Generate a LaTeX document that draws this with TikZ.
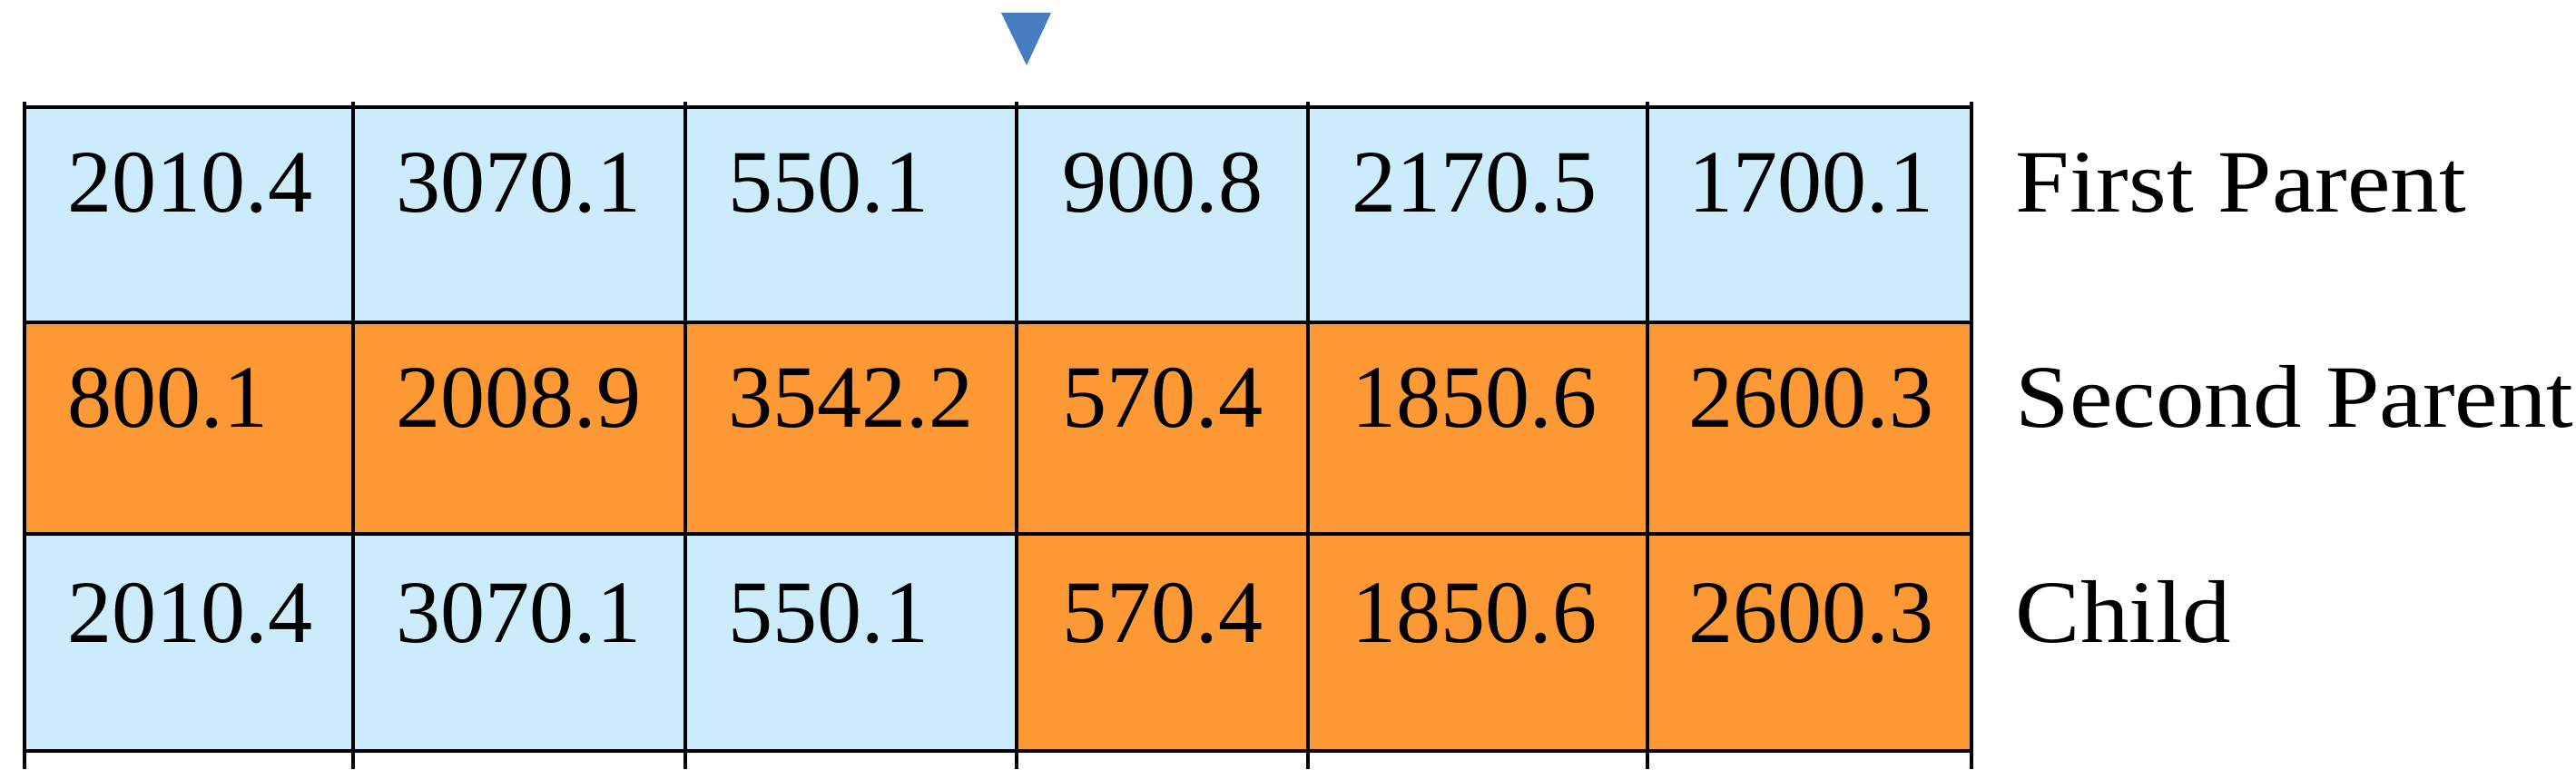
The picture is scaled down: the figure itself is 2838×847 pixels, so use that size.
\documentclass[tikz,border=0pt]{standalone}
\usepackage{fontspec}
\setmainfont{Liberation Serif}
\definecolor{cellblue}{RGB}{204,236,252}
\definecolor{cellorange}{RGB}{253,153,52}
\definecolor{markblue}{RGB}{70,125,190}
\tikzset{
  gridline/.style={line width=0.043cm, black},
  celltext/.style={anchor=base west, inner sep=0pt, font=\fontsize{27.9}{30}\selectfont},
  rowlabel/.style={anchor=base west, inner sep=0pt, font=\fontsize{27.9}{30}\selectfont},
}
\newcommand{\widelabel}[1]{\scalebox{1.09}[1]{#1}}
\begin{document}
\begin{tikzpicture}[x=0.01cm,y=-0.01cm]
\useasboundingbox (0,0) rectangle (2838,847);
% fills
\fill[cellblue] (27,118) rectangle (2172,355);
\fill[cellorange] (27,355) rectangle (2172,588);
\fill[cellblue] (27,588) rectangle (1120,827);
\fill[cellorange] (1120,588) rectangle (2172,827);
% grid
\foreach \y in {118,355,588,827} \draw[gridline] (27,\y) -- (2172,\y);
\foreach \x in {27,389,755,1120,1441,1815,2172} \draw[gridline] (\x,112) -- (\x,847);
% marker
\fill[markblue] (1103,14) -- (1158,14) -- (1131,72) -- cycle;
% row 1
\node[celltext] (a1) at (74,233) {2010.4};
\node[celltext] (a2) at (436,233) {3070.1};
\node[celltext] (a3) at (802,233) {550.1};
\node[celltext] (a4) at (1170,233) {900.8};
\node[celltext] (a5) at (1489,233) {2170.5};
\node[celltext] (a6) at (1860,233) {1700.1};
% row 2
\node[celltext] (b1) at (74,470) {800.1};
\node[celltext] (b2) at (436,470) {2008.9};
\node[celltext] (b3) at (802,470) {3542.2};
\node[celltext] (b4) at (1170,470) {570.4};
\node[celltext] (b5) at (1489,470) {1850.6};
\node[celltext] (b6) at (1860,470) {2600.3};
% row 3
\node[celltext] (c1) at (74,707) {2010.4};
\node[celltext] (c2) at (436,707) {3070.1};
\node[celltext] (c3) at (802,707) {550.1};
\node[celltext] (c4) at (1170,707) {570.4};
\node[celltext] (c5) at (1489,707) {1850.6};
\node[celltext] (c6) at (1860,707) {2600.3};
% labels
\node[rowlabel] (l1) at (2220,233) {\widelabel{First Parent}};
\node[rowlabel] (l2) at (2220,470) {\widelabel{Second Parent}};
\node[rowlabel] (l3) at (2220,707) {\widelabel{Child}};
\end{tikzpicture}
\end{document}
